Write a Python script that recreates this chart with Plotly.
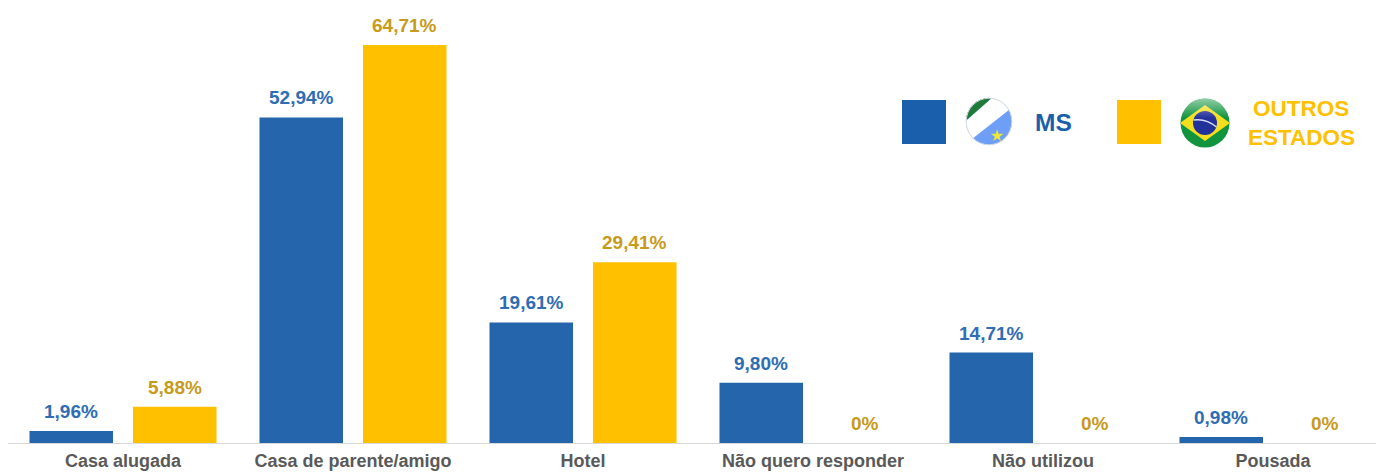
import base64
import plotly.graph_objects as go

categories = ["Casa alugada", "Casa de parente/amigo", "Hotel", "Não quero responder", "Não utilizou", "Pousada"]
ms_values = [1.96, 52.94, 19.61, 9.80, 14.71, 0.98]
outros_values = [5.88, 64.71, 29.41, 0, 0, 0]
ms_labels = ["1,96%", "52,94%", "19,61%", "9,80%", "14,71%", "0,98%"]
outros_labels = ["5,88%", "64,71%", "29,41%", "0%", "0%", "0%"]

W, H = 1376, 472
ML, MB = 8, 29
PW, PH = W - ML, H - MB
FONT = "Liberation Sans, Arial, sans-serif"
BLUE, GOLD = "#2565AB", "#FFC000"
BLUE_T, GOLD_T = "#2E6DB4", "#C79A1C"
LEG_BLUE = "#1A5FAB"
LABEL_OFFSET = 51.75
LABEL_LIFT = 19.5


def px(x):
    return (x - ML) / PW


def py(y):
    return 1 - y / PH


def uri(svg):
    return "data:image/svg+xml;base64," + base64.b64encode(svg.encode()).decode()


ms_flag = """<svg xmlns='http://www.w3.org/2000/svg' viewBox='0 0 100 100'>
<defs><clipPath id='c'><circle cx='50' cy='50' r='48'/></clipPath>
<linearGradient id='g' x1='0' y1='0' x2='0' y2='1'><stop offset='0' stop-color='#6E9EF8'/><stop offset='1' stop-color='#6E9EF4'/></linearGradient></defs>
<g clip-path='url(#c)'>
<rect width='100' height='100' fill='url(#g)'/>
<polygon points='58,0 100,20 14,86 0,72 0,50' fill='#FFFFFF'/>
<polygon points='0,0 58,0 0,50' fill='#1F7A3A'/>
<polygon points='67,66 70,75 80,75 72,81 75,90 67,84 59,90 62,81 54,75 64,75' fill='#EDE833'/>
</g>
<circle cx='50' cy='50' r='47.5' fill='none' stroke='#D3DAE4' stroke-width='2'/>
</svg>"""

br_flag = """<svg xmlns='http://www.w3.org/2000/svg' viewBox='0 0 100 100'>
<defs><clipPath id='c'><circle cx='50' cy='50' r='49'/></clipPath>
<linearGradient id='s' x1='0' y1='0' x2='0' y2='1'><stop offset='0' stop-color='#FFFFFF' stop-opacity='0.55'/><stop offset='0.4' stop-color='#FFFFFF' stop-opacity='0'/></linearGradient></defs>
<g clip-path='url(#c)'>
<rect width='100' height='100' fill='#12943F'/>
<polygon points='50,14 100,50 50,86 0,50' fill='#F4DE1E'/>
<circle cx='50' cy='50' r='24' fill='#23329A'/>
<path d='M27,44 Q52,40 73,58' fill='none' stroke='#D9DFF2' stroke-width='3'/>
<rect width='100' height='100' fill='url(#s)'/>
</g>
</svg>"""

fig = go.Figure()
fig.add_bar(x=categories, y=ms_values, marker_color=BLUE, marker_line_width=0, name="MS")
fig.add_bar(x=categories, y=outros_values, marker_color=GOLD, marker_line_width=0, name="OUTROS ESTADOS")

shapes = [
    dict(type="rect", xref="paper", yref="paper", x0=px(902), x1=px(946), y0=py(144), y1=py(100),
         fillcolor=LEG_BLUE, line_width=0),
    dict(type="rect", xref="paper", yref="paper", x0=px(1117), x1=px(1161), y0=py(144), y1=py(100),
         fillcolor=GOLD, line_width=0),
]
images = [
    dict(source=uri(ms_flag), xref="paper", yref="paper", x=px(965), y=py(97), sizex=48 / PW, sizey=49 / PH,
         xanchor="left", yanchor="top", sizing="stretch", layer="above"),
    dict(source=uri(br_flag), xref="paper", yref="paper", x=px(1180), y=py(98), sizex=50 / PW, sizey=50 / PH,
         xanchor="left", yanchor="top", sizing="stretch", layer="above"),
]
annotations = [
    dict(text="<b>MS</b>", xref="paper", yref="paper", x=px(1053), y=py(122), showarrow=False,
         font=dict(size=24.5, color=LEG_BLUE, family=FONT), xanchor="center", yanchor="middle"),
    dict(text="<b>OUTROS</b>", xref="paper", yref="paper", x=px(1301), y=py(108), showarrow=False,
         font=dict(size=22.5, color=GOLD, family=FONT), xanchor="center", yanchor="middle"),
    dict(text="<b>ESTADOS</b>", xref="paper", yref="paper", x=px(1301), y=py(137), showarrow=False,
         font=dict(size=22.5, color=GOLD, family=FONT), xanchor="center", yanchor="middle"),
]
for cat, v, t in zip(categories, ms_values, ms_labels):
    annotations.append(dict(x=cat, y=v, text=t, showarrow=False, xshift=-LABEL_OFFSET, yshift=LABEL_LIFT,
                            yanchor="middle", xanchor="center",
                            font=dict(size=19, color=BLUE_T, family=FONT, weight="bold")))
for cat, v, t in zip(categories, outros_values, outros_labels):
    annotations.append(dict(x=cat, y=v, text=t, showarrow=False, xshift=LABEL_OFFSET, yshift=LABEL_LIFT,
                            yanchor="middle", xanchor="center",
                            font=dict(size=19, color=GOLD_T, family=FONT, weight="bold")))

fig.update_layout(
    width=W, height=H, margin=dict(l=ML, r=0, t=0, b=MB, pad=0, autoexpand=False),
    plot_bgcolor="white", paper_bgcolor="white", showlegend=False,
    barmode="group", bargap=0.1, bargroupgap=0.193,
    shapes=shapes, images=images, annotations=annotations,
)
fig.update_xaxes(type="category", range=[-0.5, PW / 230 - 0.5], showgrid=False, showline=True, automargin=False,
                 linecolor="#D9D9D9", linewidth=1, ticks="", ticklen=0, tickangle=0, ticklabelstandoff=1,
                 tickfont=dict(size=18, color="#595959", family=FONT, weight="bold"))
fig.update_yaxes(range=[0, PH / 6.15], visible=False)
fig.write_html("out.html", config={"displayModeBar": False},
               post_script="document.body.style.margin='0';document.documentElement.style.overflow='hidden';")
